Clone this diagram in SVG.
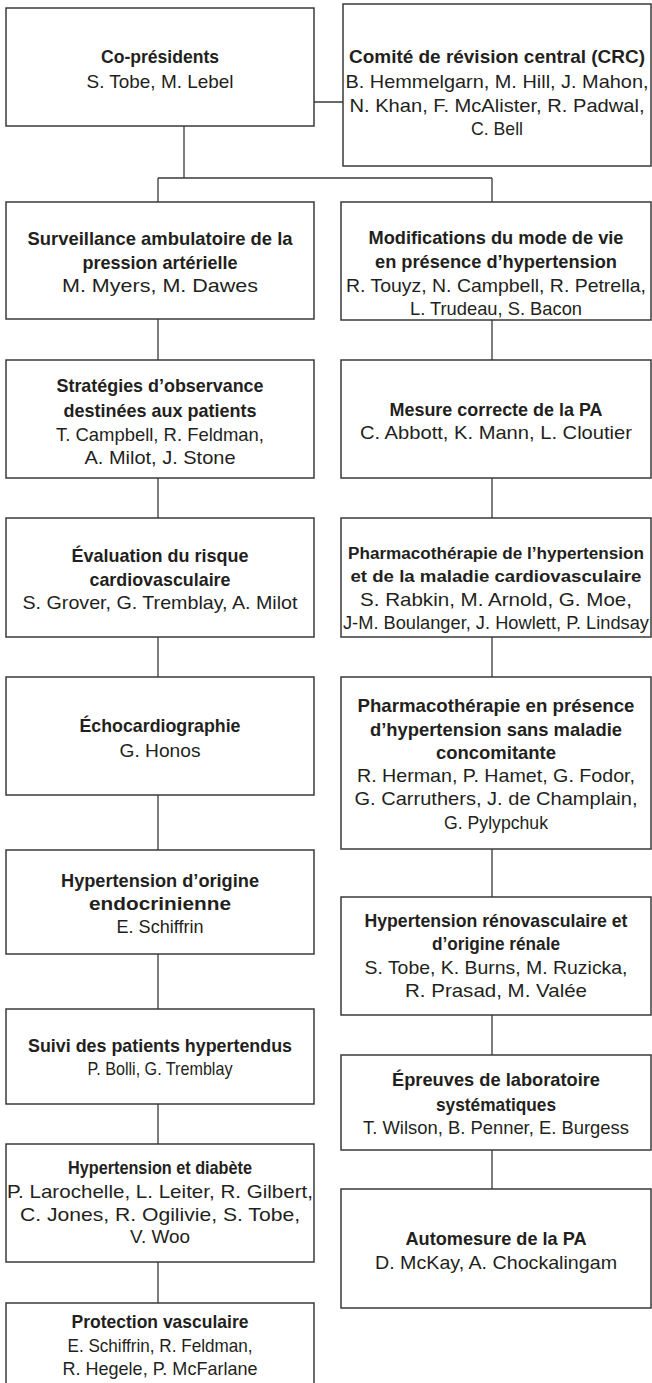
<svg xmlns="http://www.w3.org/2000/svg" width="652" height="1383" viewBox="0 0 652 1383">
<style>
.box{fill:#fff;stroke:#3a3a3a;stroke-width:1.5}
.c{fill:none;stroke:#3a3a3a;stroke-width:1.3}
text{font-family:"Liberation Sans",Arial,sans-serif;font-size:19px;fill:#231f20;text-anchor:middle}
.b{font-weight:bold}
.n{font-size:17.4px}
</style>
<rect width="652" height="1383" fill="#fff"/>
<g id="connectors">
<path class="c" d="M314,102H343M184,126V178M158,178H492M158,178V202M492,178V202"/>
<path class="c" d="M158,319V360M158,478V518M158,637V677M158,795V850M158,954V1009M158,1104V1144M158,1262V1303"/>
<path class="c" d="M492,320V360M492,478V518M492,637V677M492,849V897M492,1015V1055M492,1150V1189"/>
</g>
<g id="copresidents"><rect class="box" x="6" y="8" width="308" height="118"/>
<text x="160" y="63" class="b" textLength="118" lengthAdjust="spacingAndGlyphs">Co-présidents</text>
<text x="160" y="88" textLength="147" lengthAdjust="spacingAndGlyphs">S. Tobe, M. Lebel</text></g>
<g id="crc"><rect class="box" x="343" y="4" width="308" height="162"/>
<text x="497" y="63" class="b" textLength="296" lengthAdjust="spacingAndGlyphs">Comité de révision central (CRC)</text>
<text x="497" y="88" textLength="303" lengthAdjust="spacingAndGlyphs">B. Hemmelgarn, M. Hill, J. Mahon,</text>
<text x="497" y="112" textLength="295" lengthAdjust="spacingAndGlyphs">N. Khan, F. McAlister, R. Padwal,</text>
<text x="497" y="135" textLength="52" lengthAdjust="spacingAndGlyphs">C. Bell</text></g>
<g id="surveillance"><rect class="box" x="6" y="202" width="308" height="117"/>
<text x="160" y="245" class="b" textLength="265" lengthAdjust="spacingAndGlyphs">Surveillance ambulatoire de la</text>
<text x="160" y="269" class="b" textLength="155" lengthAdjust="spacingAndGlyphs">pression artérielle</text>
<text x="160" y="292" textLength="196" lengthAdjust="spacingAndGlyphs">M. Myers, M. Dawes</text></g>
<g id="strategies"><rect class="box" x="6" y="360" width="308" height="118"/>
<text x="160" y="392" class="b" textLength="207" lengthAdjust="spacingAndGlyphs">Stratégies d’observance</text>
<text x="160" y="417" class="b" textLength="193" lengthAdjust="spacingAndGlyphs">destinées aux patients</text>
<text x="160" y="441" textLength="208" lengthAdjust="spacingAndGlyphs">T. Campbell, R. Feldman,</text>
<text x="160" y="464" textLength="151" lengthAdjust="spacingAndGlyphs">A. Milot, J. Stone</text></g>
<g id="evaluation"><rect class="box" x="6" y="518" width="308" height="119"/>
<text x="160" y="562" class="b" textLength="177" lengthAdjust="spacingAndGlyphs">Évaluation du risque</text>
<text x="160" y="586" class="b" textLength="141" lengthAdjust="spacingAndGlyphs">cardiovasculaire</text>
<text x="160" y="609" textLength="275" lengthAdjust="spacingAndGlyphs">S. Grover, G. Tremblay, A. Milot</text></g>
<g id="echo"><rect class="box" x="6" y="677" width="308" height="118"/>
<text x="160" y="732" class="b" textLength="161" lengthAdjust="spacingAndGlyphs">Échocardiographie</text>
<text x="160" y="757" textLength="81" lengthAdjust="spacingAndGlyphs">G. Honos</text></g>
<g id="endocrine"><rect class="box" x="6" y="850" width="308" height="104"/>
<text x="160" y="887" class="b" textLength="198" lengthAdjust="spacingAndGlyphs">Hypertension d’origine</text>
<text x="160" y="910" class="b" textLength="142" lengthAdjust="spacingAndGlyphs">endocrinienne</text>
<text x="160" y="933" textLength="87" lengthAdjust="spacingAndGlyphs">E. Schiffrin</text></g>
<g id="suivi"><rect class="box" x="6" y="1009" width="308" height="95"/>
<text x="160" y="1052" class="b" textLength="264" lengthAdjust="spacingAndGlyphs">Suivi des patients hypertendus</text>
<text x="160" y="1075" textLength="145" lengthAdjust="spacingAndGlyphs">P. Bolli, G. Tremblay</text></g>
<g id="diabete"><rect class="box" x="6" y="1144" width="308" height="118"/>
<text x="160" y="1174" class="b" textLength="184" lengthAdjust="spacingAndGlyphs">Hypertension et diabète</text>
<text x="160" y="1198" textLength="306" lengthAdjust="spacingAndGlyphs">P. Larochelle, L. Leiter, R. Gilbert,</text>
<text x="160" y="1221" textLength="280" lengthAdjust="spacingAndGlyphs">C. Jones, R. Ogilivie, S. Tobe,</text>
<text x="160" y="1243" textLength="60" lengthAdjust="spacingAndGlyphs">V. Woo</text></g>
<g id="protection"><rect class="box" x="6" y="1303" width="308" height="100"/>
<text x="160" y="1328" class="b" textLength="177" lengthAdjust="spacingAndGlyphs">Protection vasculaire</text>
<text x="160" y="1352" textLength="185" lengthAdjust="spacingAndGlyphs">E. Schiffrin, R. Feldman,</text>
<text x="160" y="1375" textLength="195" lengthAdjust="spacingAndGlyphs">R. Hegele, P. McFarlane</text></g>
<g id="modifications"><rect class="box" x="341" y="202" width="310" height="118"/>
<text x="496" y="244" class="b" textLength="255" lengthAdjust="spacingAndGlyphs">Modifications du mode de vie</text>
<text x="496" y="268" class="b" textLength="242" lengthAdjust="spacingAndGlyphs">en présence d’hypertension</text>
<text x="496" y="292" textLength="300" lengthAdjust="spacingAndGlyphs">R. Touyz, N. Campbell, R. Petrella,</text>
<text x="496" y="315" textLength="172" lengthAdjust="spacingAndGlyphs">L. Trudeau, S. Bacon</text></g>
<g id="mesure"><rect class="box" x="341" y="360" width="310" height="118"/>
<text x="496" y="416" class="b" textLength="213" lengthAdjust="spacingAndGlyphs">Mesure correcte de la PA</text>
<text x="496" y="439" textLength="272" lengthAdjust="spacingAndGlyphs">C. Abbott, K. Mann, L. Cloutier</text></g>
<g id="pharmaco1"><rect class="box" x="341" y="518" width="310" height="119"/>
<text x="496" y="559" class="b n" textLength="296" lengthAdjust="spacingAndGlyphs">Pharmacothérapie de l’hypertension</text>
<text x="496" y="582" class="b n" textLength="291" lengthAdjust="spacingAndGlyphs">et de la maladie cardiovasculaire</text>
<text x="496" y="606" textLength="272" lengthAdjust="spacingAndGlyphs">S. Rabkin, M. Arnold, G. Moe,</text>
<text x="496" y="629" style="font-size:18px" textLength="306" lengthAdjust="spacingAndGlyphs">J-M. Boulanger, J. Howlett, P. Lindsay</text></g>
<g id="pharmaco2"><rect class="box" x="341" y="677" width="310" height="172"/>
<text x="496" y="712" class="b" textLength="277" lengthAdjust="spacingAndGlyphs">Pharmacothérapie en présence</text>
<text x="496" y="736" class="b" textLength="252" lengthAdjust="spacingAndGlyphs">d’hypertension sans maladie</text>
<text x="496" y="759" class="b" textLength="120" lengthAdjust="spacingAndGlyphs">concomitante</text>
<text x="496" y="782" textLength="278" lengthAdjust="spacingAndGlyphs">R. Herman, P. Hamet, G. Fodor,</text>
<text x="496" y="805" textLength="283" lengthAdjust="spacingAndGlyphs">G. Carruthers, J. de Champlain,</text>
<text x="496" y="829" textLength="104" lengthAdjust="spacingAndGlyphs">G. Pylypchuk</text></g>
<g id="renovasculaire"><rect class="box" x="341" y="897" width="310" height="118"/>
<text x="496" y="927" class="b" textLength="263" lengthAdjust="spacingAndGlyphs">Hypertension rénovasculaire et</text>
<text x="496" y="950" class="b" textLength="128" lengthAdjust="spacingAndGlyphs">d’origine rénale</text>
<text x="496" y="974" textLength="263" lengthAdjust="spacingAndGlyphs">S. Tobe, K. Burns, M. Ruzicka,</text>
<text x="496" y="997" textLength="182" lengthAdjust="spacingAndGlyphs">R. Prasad, M. Valée</text></g>
<g id="epreuves"><rect class="box" x="341" y="1055" width="310" height="95"/>
<text x="496" y="1086" class="b" textLength="208" lengthAdjust="spacingAndGlyphs">Épreuves de laboratoire</text>
<text x="496" y="1111" class="b" textLength="120" lengthAdjust="spacingAndGlyphs">systématiques</text>
<text x="496" y="1134" textLength="266" lengthAdjust="spacingAndGlyphs">T. Wilson, B. Penner, E. Burgess</text></g>
<g id="automesure"><rect class="box" x="341" y="1189" width="310" height="119"/>
<text x="496" y="1245" class="b" textLength="181" lengthAdjust="spacingAndGlyphs">Automesure de la PA</text>
<text x="496" y="1269" textLength="242" lengthAdjust="spacingAndGlyphs">D. McKay, A. Chockalingam</text></g>
</svg>
